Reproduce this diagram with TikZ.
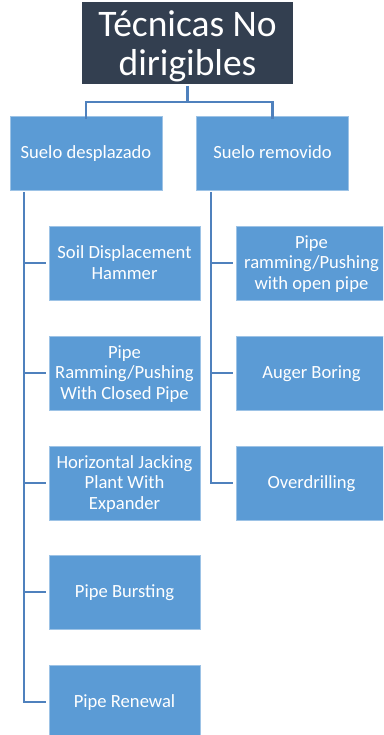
\documentclass[tikz,border=0pt]{standalone}
\usepackage{fontspec}
\setmainfont{Carlito}
\definecolor{titlebg}{HTML}{333F50}
\definecolor{boxbg}{HTML}{5B9BD5}
\definecolor{boxedge}{HTML}{9DC3E6}
\definecolor{linec}{HTML}{4F81BD}
\begin{document}
\begin{tikzpicture}[x=1pt,y=-1pt,
  titlebox/.style={fill=titlebg,draw=none,text=white,minimum width=211pt,minimum height=74pt,inner sep=0pt,align=center,font=\fontsize{37.5}{39.5}\selectfont,text height=73.6pt,text depth=8pt},
  catbox/.style={fill=boxbg,draw=boxedge,line width=0.6pt,text=white,minimum width=152pt,minimum height=74pt,inner sep=0pt,align=center,font=\fontsize{18.6}{20.6}\selectfont,text height=16pt,text depth=4.4pt},
  leafbox/.style={catbox,minimum width=151pt},
  twolines/.style={text height=36.6pt},
  threelines/.style={text height=57.2pt},
  conn/.style={draw=linec,line width=2.6pt}]
\useasboundingbox (0,0) rectangle (383,735);
\begin{scope}
\clip (0,0) rectangle (383,735);
\node[titlebox] (t) at (187.5,43) {Técnicas No\\dirigibles};
\node[catbox] (sd) at (86,153) {Suelo desplazado};
\node[catbox] (sr) at (272.5,153) {Suelo removido};
\node[leafbox,twolines] (l1) at (124.5,263) {Soil Displacement\\Hammer};
\node[leafbox,threelines] (l2) at (124.5,373) {Pipe\\Ramming/Pushing\\With Closed Pipe};
\node[leafbox,threelines] (l3) at (124.5,483) {Horizontal Jacking\\Plant With\\Expander};
\node[leafbox] (l4) at (124.5,592) {Pipe Bursting};
\node[leafbox] (l5) at (124.5,702) {Pipe Renewal};
\node[leafbox,threelines] (r1) at (311.5,263) {Pipe\\ramming/Pushing\\with open pipe};
\node[leafbox] (r2) at (311.5,373) {Auger Boring};
\node[leafbox] (r3) at (311.5,483) {Overdrilling};
\coordinate (ls) at (24,192);
\coordinate (rs) at (211,192);
\draw[conn] ([yshift=-2pt]t.south) -- ++(0,16) -| ([yshift=-3pt]sd.north);
\draw[conn] ([yshift=-2pt]t.south) -- ++(0,16) -| ([yshift=-3pt]sr.north);
\draw[conn] (ls) |- ([xshift=-3pt]l5.west);
\foreach \n in {l1,l2,l3,l4} \draw[conn] (ls |- \n.west) -- ([xshift=-3pt]\n.west);
\draw[conn] (rs) |- ([xshift=-3pt]r3.west);
\foreach \n in {r1,r2} \draw[conn] (rs |- \n.west) -- ([xshift=-3pt]\n.west);
\end{scope}
\end{tikzpicture}
\end{document}
